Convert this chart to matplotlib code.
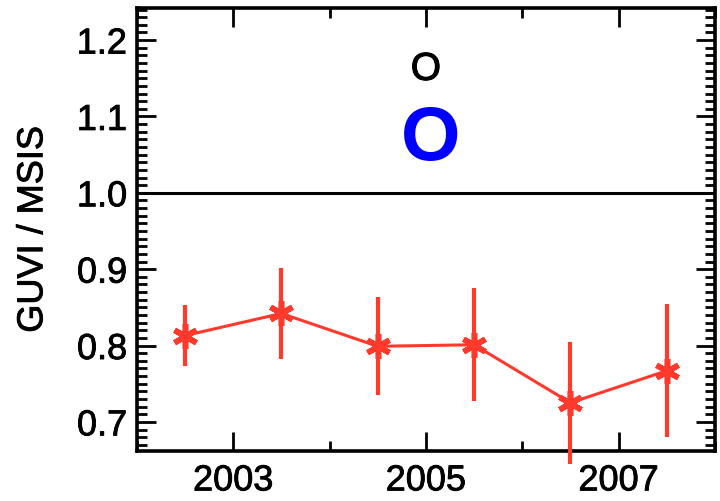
import matplotlib
matplotlib.use('Agg')
import matplotlib.pyplot as plt
import matplotlib.patheffects as pe
from matplotlib.ticker import MultipleLocator

# GUVI / MSIS ratio for O, yearly means with error bars
years = [2002.5, 2003.5, 2004.5, 2005.5, 2006.5, 2007.5]
ratio = [0.813, 0.842, 0.799, 0.801, 0.725, 0.767]
err = [0.040, 0.060, 0.064, 0.074, 0.080, 0.087]

species = 'O'
red = '#ff3a2c'

plt.rcParams['font.family'] = ['Liberation Sans', 'DejaVu Sans']

fig = plt.figure(figsize=(7.2, 5.01), dpi=100)
ax = fig.add_axes([0.190, 0.100, 0.803, 0.884])

ax.errorbar(years, ratio, yerr=err, color=red, lw=2.2, elinewidth=3,
            capsize=0, marker=(6, 2, 0), markersize=18, mew=4,
            clip_on=False, zorder=3)
ax.axhline(1.0, color='black', lw=2.2)

ax.set_xlim(2002, 2008)
ax.set_ylim(0.662, 1.242)
ax.xaxis.set_major_locator(MultipleLocator(2, offset=1))
ax.xaxis.set_minor_locator(MultipleLocator(1))
ax.yaxis.set_minor_locator(MultipleLocator(0.01))
ax.set_yticks([0.7, 0.8, 0.9, 1.0, 1.1, 1.2])
ax.set_yticklabels(['0.7', '0.8', '0.9', '1.0', '1.1', '1.2'])

ax.tick_params(which='both', direction='in', top=True, right=True,
               width=2, labelsize=26)
ax.tick_params(axis='y', pad=7)
ax.tick_params(axis='x', pad=9)
ax.tick_params(which='major', length=14)
ax.tick_params(which='minor', length=7)
for s in ax.spines.values():
    s.set_linewidth(2.6)

ax.set_ylabel('GUVI / MSIS', fontsize=26, labelpad=19)

# slightly heavier text, like the original postscript rendering
heavy = [pe.withStroke(linewidth=0.6, foreground='black')]
for t in ax.get_xticklabels() + ax.get_yticklabels() + [ax.yaxis.label]:
    t.set_path_effects(heavy)

ax.text(2005.0, 1.161, species, ha='center', va='center', fontsize=28,
        color='black', path_effects=[pe.withStroke(linewidth=0.8, foreground='black')])
ax.text(2005.05, 1.068, species, ha='center', va='center', fontsize=55,
        color='#0000ff', fontweight='bold')

fig.savefig('out.png', dpi=100)
